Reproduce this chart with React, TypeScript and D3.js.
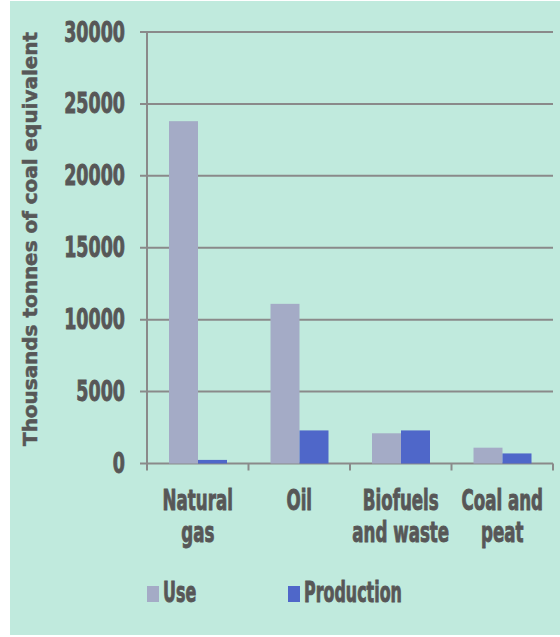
import * as d3 from "d3";

// fuel categories (two-line labels)
const categories = ["Natural gas", "Oil", "Biofuels and waste", "Coal and peat"];
const categoryLines = [["Natural", "gas"], ["Oil"], ["Biofuels", "and waste"], ["Coal and", "peat"]];
const seriesNames = ["Use", "Production"];
const useValues = [23800, 11100, 2100, 1100];
const productionValues = [250, 2300, 2300, 700];
const yTicks = [0, 5000, 10000, 15000, 20000, 25000, 30000];

const W = 560;
const H = 637;
const FONT = "'DejaVu Sans Condensed', 'Liberation Sans Narrow', sans-serif";
const TEXT = "#575757";
const AXIS = "#8a8a8a";
const colors = ["#a4abc6", "#4f67c9"];

// condensed text: squeeze horizontally around the anchor point
function Squeezed({ x, y, sx, size, anchor, children }: any) {
    return (
        <g transform={`translate(${x},${y}) scale(${sx},1)`}>
            <text x={0} y={0} textAnchor={anchor} fontSize={size} fill={TEXT} stroke={TEXT} strokeWidth={0.9}>
                {children}
            </text>
        </g>
    );
}

export default function App() {
    const margin = { top: 32, left: 147, right: 7, bottom: 173 };

    const x = d3.scaleBand<string>()
        .domain(categories)
        .range([margin.left, W - margin.right]);

    const inner = d3.scaleBand<string>()
        .domain(seriesNames)
        .range([22, 80]);

    const y = d3.scaleLinear()
        .domain([0, 30000])
        .range([H - margin.bottom - 0.5, margin.top]);

    const series = [useValues, productionValues];
    const y0 = y(0);

    return (
        <svg width={W} height={H} style={{ position: "absolute", left: 0, top: 0 }} fontFamily={FONT} fontWeight="bold">
            <rect x={0} y={0} width={W} height={H} fill="#ffffff" />
            <rect x={10} y={1} width={W - 10} height={634} fill="#c0eadd" />

            {/* y axis label */}
            <text
                transform={`translate(37,239) rotate(-90)`}
                textAnchor="middle"
                fontSize={19.5}
                textLength={414}
                lengthAdjust="spacingAndGlyphs"
                fill={TEXT}
                stroke={TEXT}
                strokeWidth={0.5}
            >
                Thousands tonnes of coal equivalent
            </text>

            {/* gridlines and tick labels */}
            {yTicks.map((t) => (
                <g key={t}>
                    <line x1={margin.left - 7} x2={W - margin.right} y1={y(t)} y2={y(t)} stroke={AXIS} strokeWidth={2} />
                    <Squeezed x={125} y={y(t) + 9.5} sx={0.67} size={29} anchor="end">
                        {t}
                    </Squeezed>
                </g>
            ))}

            {/* y axis line */}
            <line x1={margin.left} x2={margin.left} y1={y(30000)} y2={y0} stroke={AXIS} strokeWidth={2} />

            {/* x axis ticks */}
            {[...categories.map((c) => x(c)!), W - margin.right].map((px, i) => (
                <line key={i} x1={px} x2={px} y1={y0} y2={y0 + 7} stroke={AXIS} strokeWidth={2} />
            ))}

            {/* bars */}
            {series.map((vals, si) =>
                categories.map((c, ci) => (
                    <rect
                        key={`${si}-${ci}`}
                        x={x(c)! + inner(seriesNames[si])!}
                        y={y(vals[ci])}
                        width={inner.bandwidth()}
                        height={y0 - y(vals[ci])}
                        fill={colors[si]}
                    />
                ))
            )}

            {/* category labels */}
            {categories.map((c, ci) =>
                categoryLines[ci].map((line, li) => (
                    <Squeezed
                        key={`${c}-${li}`}
                        x={x(c)! + x.bandwidth() / 2}
                        y={510 + li * 32}
                        sx={0.64}
                        size={29}
                        anchor="middle"
                    >
                        {line}
                    </Squeezed>
                ))
            )}

            {/* legend */}
            {seriesNames.map((s, si) => {
                const lx = si === 0 ? 147 : 288;
                return (
                    <g key={s}>
                        <rect x={lx} y={586} width={12} height={16} fill={colors[si]} />
                        <Squeezed x={lx + 16} y={602} sx={0.61} size={29} anchor="start">
                            {s}
                        </Squeezed>
                    </g>
                );
            })}
        </svg>
    );
}
